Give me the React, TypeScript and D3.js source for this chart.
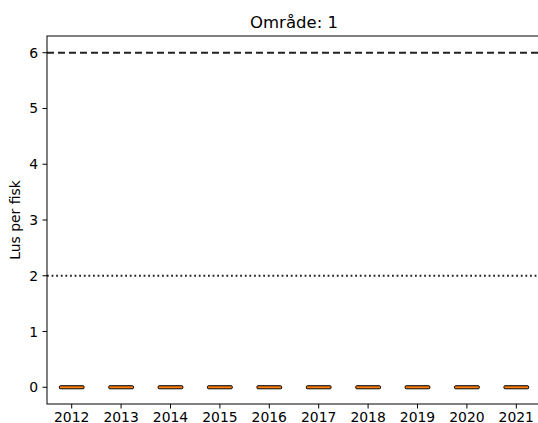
import React from "react";
import * as d3 from "d3";

const years = ["2012","2013","2014","2015","2016","2017","2018","2019","2020","2021"];
const medians = [0,0,0,0,0,0,0,0,0,0];
const q1 = [0,0,0,0,0,0,0,0,0,0];
const q3 = [0,0,0,0,0,0,0,0,0,0];
const yTicks = [0,1,2,3,4,5,6];
const dashedLimit = 6;
const dottedLimit = 2;
const title = "Område: 1";
const yLabel = "Lus per fisk";

const W = 538, H = 423;
const left = 47, top = 36, bottom = 404, right = 541;

export default function App() {
  const x = d3.scaleLinear().domain([0.5, years.length + 0.5]).range([left, right]);
  const y = d3.scaleLinear().domain([-0.3, 6.3]).range([bottom, top]);
  const bw = 0.5;
  const font = "DejaVu Sans, sans-serif";
  return (
    <svg width={W} height={H} style={{ position: "absolute", left: 0, top: 0, background: "#fff" }}>
      <text x={(left + right) / 2} y={28} textAnchor="middle" fontFamily={font} fontSize={16.5} fill="#000">{title}</text>
      <text transform={`translate(20,${(top + bottom) / 2}) rotate(-90)`} textAnchor="middle" fontFamily={font} fontSize={13.9} fill="#000">{yLabel}</text>
      <line x1={left} x2={right} y1={y(dashedLimit)} y2={y(dashedLimit)} stroke="#222" strokeWidth={2} strokeDasharray="7,4" />
      <line x1={left} x2={right} y1={y(dottedLimit)} y2={y(dottedLimit)} stroke="#222" strokeWidth={1.8} strokeDasharray="1.8,2.8" />
      {years.map((yr, i) => {
        const cx = x(i + 1);
        const x0 = x(i + 1 - bw / 2), x1 = x(i + 1 + bw / 2);
        const yTop = y(q3[i]), yBot = y(q1[i]);
        return (
          <g key={yr}>
            <rect x={x0} y={yTop - 1.5} width={x1 - x0} height={yBot - yTop + 3} fill="#000" stroke="#000" strokeWidth={1} rx={1} />
            <line x1={x0 + 0.5} x2={x1 - 0.5} y1={y(medians[i])} y2={y(medians[i])} stroke="#ff7f0e" strokeWidth={2} />
            <line x1={cx} x2={cx} y1={bottom} y2={bottom + 4.5} stroke="#000" strokeWidth={1} />
            <text x={cx} y={bottom + 17.5} textAnchor="middle" fontFamily={font} fontSize={13.9} fill="#000">{yr}</text>
          </g>
        );
      })}
      {yTicks.map(t => (
        <g key={t}>
          <line x1={left - 4.5} x2={left} y1={y(t)} y2={y(t)} stroke="#000" strokeWidth={1} />
          <text x={left - 9} y={y(t)} dy="0.36em" textAnchor="end" fontFamily={font} fontSize={13.9} fill="#000">{t}</text>
        </g>
      ))}
      <rect x={left} y={top} width={right - left} height={bottom - top} fill="none" stroke="#000" strokeWidth={1} />
    </svg>
  );
}
